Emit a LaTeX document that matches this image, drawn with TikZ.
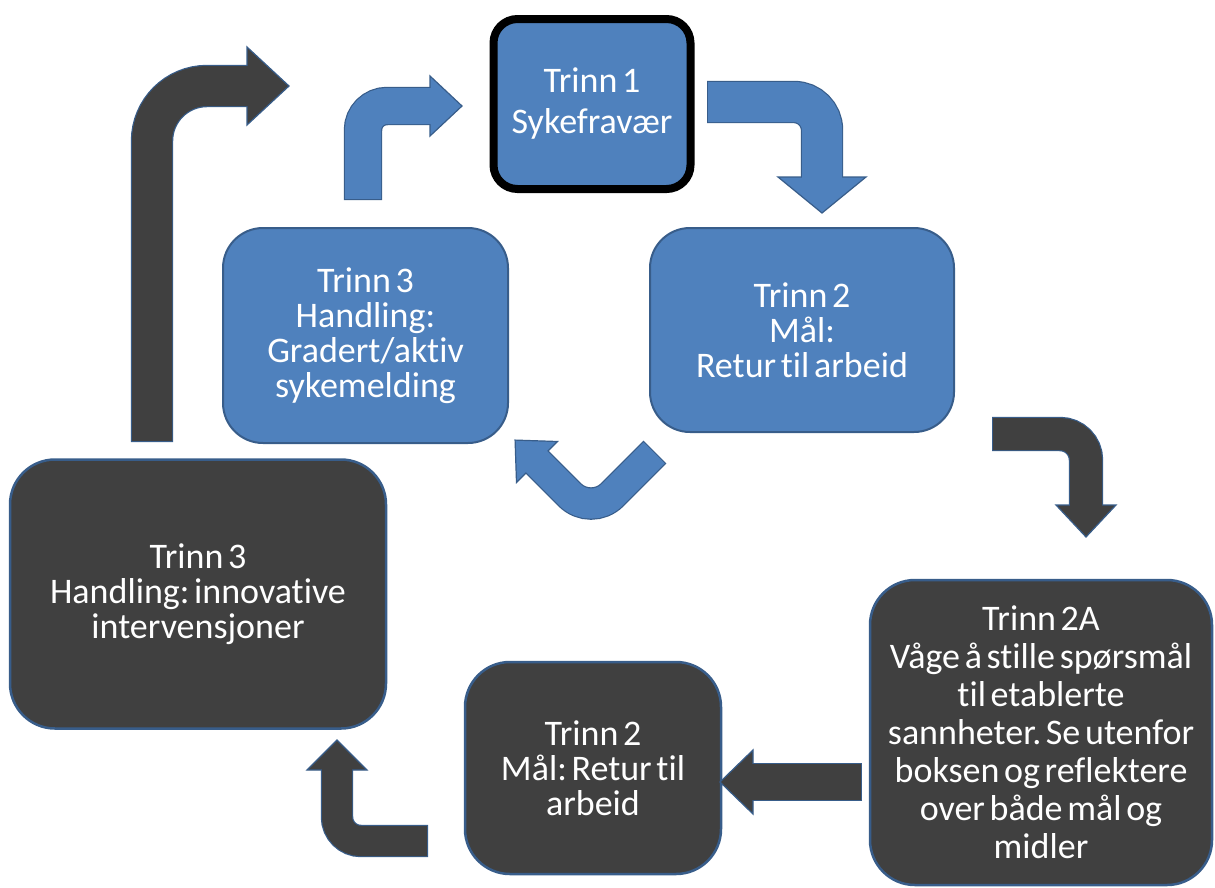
\documentclass[tikz,border=0pt]{standalone}
\usepackage{fontspec}
\setmainfont{Carlito}[Ligatures={NoCommon}]
\usetikzlibrary{calc}
\definecolor{bluefill}{RGB}{79,129,189}
\definecolor{blueline}{RGB}{56,93,138}
\definecolor{darkfill}{RGB}{64,64,64}
\newcommand\boxfont{\fontsize{36}{35}\selectfont\frenchspacing\spaceskip=0.13em plus 0.05em\relax}
% #1 fill, #2 outline, #3 shaft width, #4 bend radius, #5 tail, #6 bend, #7 head base, #8 head half width, #9 head length
\newcommand\myblockarrow[9]{%
  \draw[draw=#2, line width=#3+2.4, rounded corners=#4] (#5) -- (#6) -- (#7);
  \filldraw[fill=#1, draw=#2, line width=1.2pt, line join=miter]
     ($(#7)!#8!90:(#6)$) -- ($(#7)!-#9!(#6)$) -- ($(#7)!#8!-90:(#6)$) -- cycle;
  \draw[draw=#1, line width=#3, rounded corners=#4] ($(#5)!1.2pt!(#6)$) -- (#6) -- ($(#7)!-2pt!(#6)$);
}
\tikzset{
  boxtext/.style={text=white, align=center, font=\boxfont, inner sep=0pt},
  bluebox/.style={boxtext, rectangle, rounded corners=40pt, fill=bluefill, draw=blueline, line width=2pt},
  darkbox/.style={boxtext, rectangle, rounded corners=45pt, fill=darkfill, draw=blueline, line width=2.5pt},
  startbox/.style={bluebox, draw=black, line width=8pt, rounded corners=24pt},
}
\begin{document}
\begin{tikzpicture}[x=1pt,y=-1pt]
\useasboundingbox (0,0) rectangle (1215,887);
% boxes
\node[startbox, minimum width=197pt, minimum height=170pt] (t1) at (592,104) {Trinn 1\\[6pt]Sykefravær};
\node[bluebox, minimum width=304pt, minimum height=204pt] (t2) at (802,330) {Trinn 2\\Mål:\\Retur til arbeid};
\node[bluebox, minimum width=285pt, minimum height=215pt] (t3) at (365.5,335.5) {Trinn 3\\Handling:\\Gradert/aktiv\\sykemelding};
\node[darkbox, minimum width=376pt, minimum height=269pt] (d3) at (198,594) {Trinn 3\\Handling: innovative\\intervensjoner};
\node[darkbox, minimum width=256pt, minimum height=212pt] (d2) at (593,768) {Trinn 2\\Mål: Retur til\\arbeid};
\node[darkbox, minimum width=342pt, minimum height=305pt] (d2a) at (1041,732.5) {Trinn 2A\\[3pt]Våge å stille spørsmål\\[3pt]til etablerte\\[3pt]sannheter. Se utenfor\\[3pt]boksen og reflektere\\[3pt]over både mål og\\[3pt]midler};
% arrow coordinates
\coordinate (a1t) at (707,102); \coordinate (a1c) at (822,102); \coordinate (a1b) at (822,177);
\coordinate (a2t) at (655,452); \coordinate (a2c) at (591,516); \coordinate (a2b) at (537,462);
\coordinate (a3t) at (363,200); \coordinate (a3c) at (363,106); \coordinate (a3b) at (430,106);
\coordinate (a4t) at (152,442); \coordinate (a4c) at (152,86);  \coordinate (a4b) at (247,86);
\coordinate (a5t) at (992,434); \coordinate (a5c) at (1086,434); \coordinate (a5b) at (1086,505);
\coordinate (a6t) at (862,782); \coordinate (a6c) at (807,782); \coordinate (a6b) at (753,782);
\coordinate (a7t) at (428,841); \coordinate (a7c) at (337,841); \coordinate (a7b) at (337,770);
% arrows
\myblockarrow{bluefill}{blueline}{40}{28pt}{a1t}{a1c}{a1b}{44pt}{36pt}
\myblockarrow{bluefill}{blueline}{30}{30pt}{a2t}{a2c}{a2b}{29pt}{31pt}
\myblockarrow{bluefill}{blueline}{36}{24pt}{a3t}{a3c}{a3b}{30pt}{32pt}
\myblockarrow{darkfill}{blueline}{40}{55pt}{a4t}{a4c}{a4b}{39pt}{42pt}
\myblockarrow{darkfill}{blueline}{32}{26pt}{a5t}{a5c}{a5b}{30pt}{32pt}
\myblockarrow{darkfill}{blueline}{36}{1pt}{a6t}{a6c}{a6b}{32pt}{33pt}
\myblockarrow{darkfill}{blueline}{30}{24pt}{a7t}{a7c}{a7b}{30pt}{30pt}
\end{tikzpicture}
\end{document}
